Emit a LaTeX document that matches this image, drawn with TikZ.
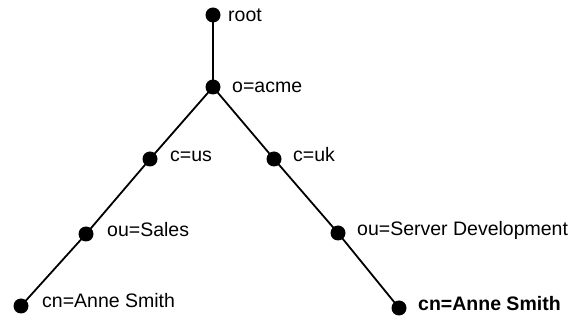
\documentclass[tikz,border=0pt]{standalone}
\usepackage{fontspec}
\setmainfont{Liberation Sans}
\usetikzlibrary{positioning}

\begin{document}
\begin{tikzpicture}[
    x=1pt, y=-1pt,
    dot/.style={circle, fill=black, inner sep=0pt, minimum size=15pt},
    branch/.style={line width=1.8pt},
    entry/.style={anchor=base west, inner sep=0pt, font=\fontsize{19.5}{22}\selectfont}
]
\useasboundingbox (0,0) rectangle (579,320);

% --- Nodos del arbol ---
\node (root) [dot] at (213,15) {};
\node (acme) [dot] at (213,87) {};
\node (us) [dot] at (150,159) {};
\node (uk) [dot] at (274,159) {};
\node (sales) [dot] at (86,234) {};
\node (serverdev) [dot] at (338,233) {};
\node (anne_us) [dot] at (21,306) {};
\node (anne_uk) [dot] at (399,308) {};

% --- Etiquetas ---
\node (root_l) [entry] at (228,22) {root};
\node (acme_l) [entry] at (232,93) {o=acme};
\node (us_l) [entry] at (170,162) {c=us};
\node (uk_l) [entry] at (293,162) {c=uk};
\node (sales_l) [entry] at (107,237) {ou=Sales};
\node (serverdev_l) [entry] at (357,236) {ou=Server Development};
\node (anne_us_l) [entry] at (42,308) {cn=Anne Smith};
\node (anne_uk_l) [entry, font=\fontsize{19.5}{22}\selectfont\bfseries] at (418,311) {cn=Anne Smith};

% --- Conexiones ---
\draw [branch] (root.center) -- (acme.center);
\draw [branch] (acme.center) -- (us.center) -- (sales.center) -- (anne_us.center);
\draw [branch] (acme.center) -- (uk.center) -- (serverdev.center) -- (anne_uk.center);

\end{tikzpicture}
\end{document}
